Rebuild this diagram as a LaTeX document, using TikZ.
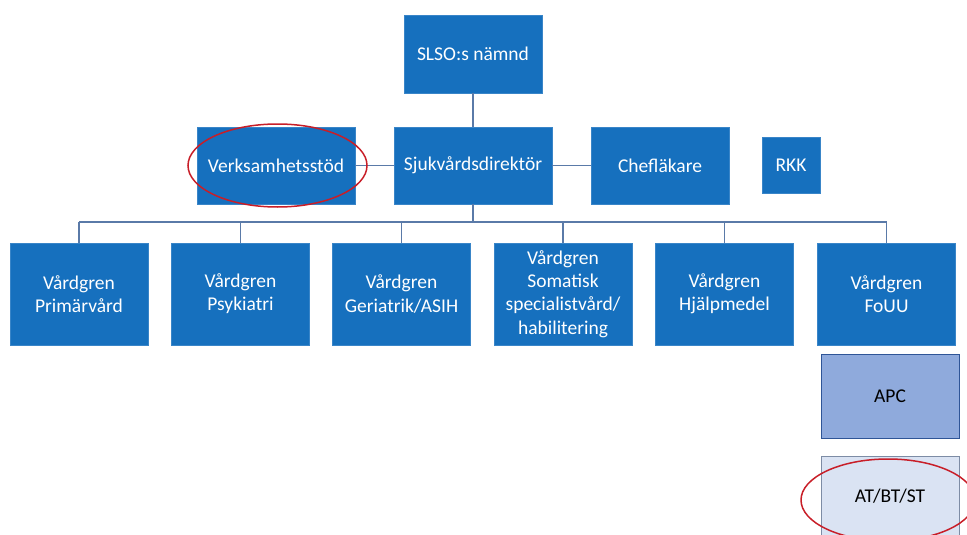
\documentclass[tikz,border=0pt]{standalone}
\usepackage{fontspec}
\setmainfont{Carlito}
\usepackage{tikz}
\definecolor{orgblue}{RGB}{22,112,190}
\definecolor{linkblue}{RGB}{90,122,168}
\definecolor{apcblue}{RGB}{143,170,220}
\definecolor{apcedge}{RGB}{47,85,151}
\definecolor{atblue}{RGB}{218,227,243}
\definecolor{atedge}{RGB}{125,140,165}
\definecolor{markred}{RGB}{200,30,40}

\begin{document}
\begin{tikzpicture}[x=1pt,y=-1pt,
        box/.style={fill=orgblue,draw=orgblue!85!white,line width=0.8pt,text=white,align=center,
            inner sep=0pt,font=\fontsize{19.5}{23.3}\selectfont},
        subbox/.style={box,text=black},
        link/.style={linkblue,line width=1.8pt}]
        \useasboundingbox (0,0) rectangle (967,535);
        \node[box,minimum width=138pt,minimum height=78pt] (slso) at (473,54) {SLSO:s nämnd};
        \node[box,minimum width=158pt,minimum height=77pt] (verk) at (276,165.5) {Verksamhetsstöd};
        \node[box,minimum width=158pt,minimum height=77pt] (sjuk) at (473,165.5) {Sjukvårdsdirektör};
        \node[box,minimum width=138pt,minimum height=77pt] (chef) at (660,165.5) {Chefläkare};
        \node[box,minimum width=58pt,minimum height=56pt] (rkk) at (791,165) {RKK};
        \node[box,minimum width=138pt,minimum height=102pt] (prim) at (79,294) {Vårdgren\\Primärvård};
        \node[box,minimum width=138pt,minimum height=102pt] (psyk) at (240.5,294) {Vårdgren\\Psykiatri};
        \node[box,minimum width=138pt,minimum height=102pt] (geri) at (401.5,294) {Vårdgren\\Geriatrik/ASIH};
        \node[box,minimum width=138pt,minimum height=102pt] (soma) at (563,294) {Vårdgren\\Somatisk\\specialistvård/\\habilitering};
        \node[box,minimum width=138pt,minimum height=102pt] (hjalp) at (724.5,294) {Vårdgren\\Hjälpmedel};
        \node[box,minimum width=138pt,minimum height=102pt] (fouu) at (886.5,294) {Vårdgren\\FoUU};
        \node[subbox,fill=apcblue,draw=apcedge,line width=1pt,minimum width=138pt,minimum height=84pt] (apc) at (890,396) {APC};
        \node[subbox,fill=atblue,draw=atedge,line width=1pt,minimum width=138pt,minimum height=80pt] (at) at (890,496) {AT/BT/ST};
        \coordinate (bus) at (0,221.7);
        \draw[link] (slso) -- (sjuk);
        \draw[link] (verk) -- (sjuk);
        \draw[link] (sjuk) -- (chef);
        \draw[link] (sjuk.south) -- (sjuk.south |- bus);
        \draw[link] (prim.north |- bus) -- (fouu.north |- bus);
        \draw[link] (prim.north) -- (prim.north |- bus);
        \draw[link] (psyk.north) -- (psyk.north |- bus);
        \draw[link] (geri.north) -- (geri.north |- bus);
        \draw[link] (soma.north) -- (soma.north |- bus);
        \draw[link] (hjalp.north) -- (hjalp.north |- bus);
        \draw[link] (fouu.north) -- (fouu.north |- bus);
        \draw[markred,line width=1.5pt] (277.5,165.5) ellipse [x radius=89.5,y radius=41.5];
        \draw[markred,line width=1.5pt] (888,500) ellipse [x radius=87,y radius=41];
    \end{tikzpicture}
\end{document}
